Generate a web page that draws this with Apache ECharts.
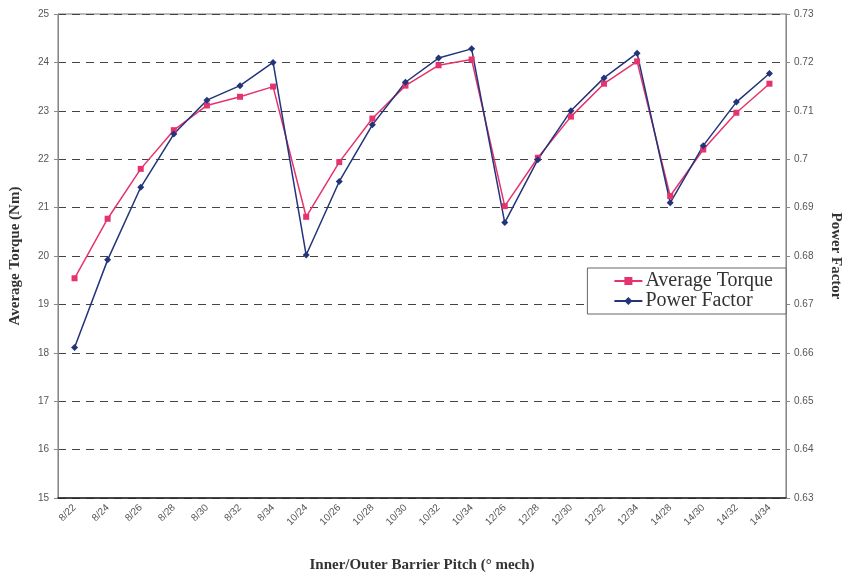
<!DOCTYPE html>
<html>
<head>
<meta charset="utf-8">
<script src="https://cdn.jsdelivr.net/npm/echarts@6/dist/echarts.min.js"></script>
<style>
  html, body { margin: 0; padding: 0; background: #fff; }
  #chart { width: 851px; height: 578px; }
</style>
</head>
<body>
<div id="chart"></div>
<script>
// Inner/outer barrier pitch combinations (degrees mechanical)
const pitches = ['8/22','8/24','8/26','8/28','8/30','8/32','8/34',
                 '10/24','10/26','10/28','10/30','10/32','10/34',
                 '12/26','12/28','12/30','12/32','12/34',
                 '14/28','14/30','14/32','14/34'];

// Average torque (Nm), left axis
const avgTorque = [19.54, 20.77, 21.80, 22.60, 23.11, 23.29, 23.50,
                   20.81, 21.94, 22.84, 23.52, 23.94, 24.06,
                   21.03, 22.03, 22.88, 23.56, 24.02,
                   21.24, 22.20, 22.96, 23.56];

// Power factor, right axis
const powerFactor = [0.6611, 0.6792, 0.6942, 0.7052, 0.7122, 0.7152, 0.7200,
                     0.6802, 0.6954, 0.7071, 0.7159, 0.7209, 0.7228,
                     0.6869, 0.6999, 0.7100, 0.7168, 0.7219,
                     0.6910, 0.7028, 0.7118, 0.7177];

const pink = '#e6336e';
const navy = '#22347a';
const serif = '"Liberation Serif", "DejaVu Serif", serif';
const sans = '"Liberation Sans", Arial, sans-serif';

const chart = echarts.init(document.getElementById('chart'));
chart.setOption({
  animation: false,
  backgroundColor: '#fff',
  grid: { left: 56, right: 61, top: 14, bottom: 76.5, show: true, borderColor: '#777', borderWidth: 1 },
  legend: {
    right: 65, top: 268,
    orient: 'vertical',
    itemGap: 0,
    itemWidth: 28, itemHeight: 10,
    padding: [3, 13, 3, 26],
    borderColor: '#666', borderWidth: 1,
    backgroundColor: '#fff',
    textStyle: { fontFamily: serif, fontSize: 20, color: '#333', padding: [0, 0, 0, -2] },
    data: ['Average Torque', 'Power Factor']
  },
  xAxis: {
    type: 'category',
    data: pitches,
    boundaryGap: true,
    name: 'Inner/Outer Barrier Pitch (° mech)',
    nameLocation: 'middle',
    nameGap: 60,
    nameTextStyle: { fontFamily: serif, fontWeight: 'bold', fontSize: 15, color: '#333' },
    axisLine: { lineStyle: { color: '#222', width: 1.5 } },
    axisTick: { inside: true, length: 4, lineStyle: { color: '#999' } },
    axisLabel: { rotate: 45, fontFamily: sans, fontSize: 10, color: '#555', margin: 8 },
    splitLine: { show: false }
  },
  yAxis: [
    {
      type: 'value', min: 15, max: 25, interval: 1,
      position: 'left',
      name: 'Average Torque (Nm)',
      nameLocation: 'middle',
      nameGap: 35,
      nameTextStyle: { fontFamily: serif, fontWeight: 'bold', fontSize: 15, color: '#333' },
      axisLine: { show: true, lineStyle: { color: '#888' } },
      axisTick: { show: true, length: 4, lineStyle: { color: '#888' } },
      axisLabel: { fontFamily: sans, fontSize: 10, color: '#555', margin: 9 },
      splitLine: { show: true, lineStyle: { type: [8, 6], color: '#444', width: 1 } }
    },
    {
      type: 'value', min: 0.63, max: 0.73, interval: 0.01,
      position: 'right',
      name: 'Power Factor',
      nameLocation: 'middle',
      nameGap: 42,
      nameRotate: -90,
      nameTextStyle: { fontFamily: serif, fontWeight: 'bold', fontSize: 15, color: '#333' },
      axisLine: { show: true, lineStyle: { color: '#888' } },
      axisTick: { show: true, length: 4, lineStyle: { color: '#888' } },
      axisLabel: {
        fontFamily: sans, fontSize: 10, color: '#555', margin: 8,
        formatter: v => String(+v.toFixed(2))
      },
      splitLine: { show: false }
    }
  ],
  series: [
    {
      name: 'Average Torque', type: 'line', yAxisIndex: 0,
      data: avgTorque,
      symbol: 'rect', symbolSize: 6,
      lineStyle: { color: pink, width: 1.5 },
      itemStyle: { color: pink }
    },
    {
      name: 'Power Factor', type: 'line', yAxisIndex: 1,
      data: powerFactor,
      symbol: 'diamond', symbolSize: 7,
      lineStyle: { color: navy, width: 1.5 },
      itemStyle: { color: navy }
    }
  ]
});
</script>
</body>
</html>
